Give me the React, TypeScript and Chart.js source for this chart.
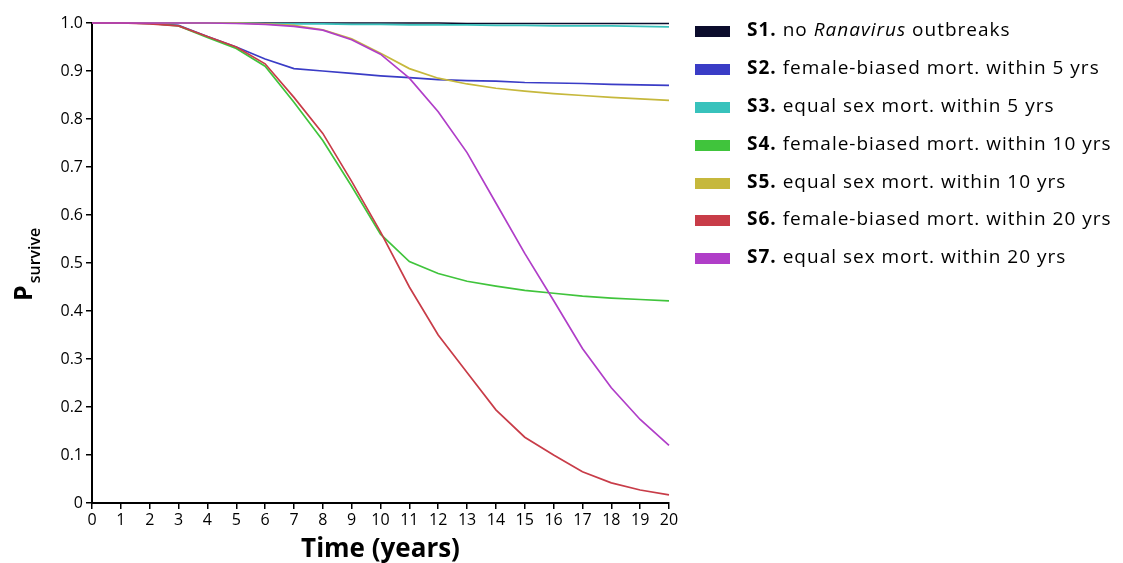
import React, { useEffect, useRef } from "react";
import { Chart, registerables } from "chart.js";

Chart.register(...registerables);

const years = [0, 1, 2, 3, 4, 5, 6, 7, 8, 9, 10, 11, 12, 13, 14, 15, 16, 17, 18, 19, 20];

const s1 = [1, 1, 1, 1, 1, 1, 1, 1, 1, 1, 1, 1, 1, 0.999, 0.999, 0.999, 0.999, 0.999, 0.999, 0.999, 0.999];
const s2 = [1, 1, 0.999, 0.995, 0.972, 0.95, 0.925, 0.905, 0.9, 0.895, 0.89, 0.886, 0.882, 0.88, 0.879, 0.876, 0.875, 0.874, 0.872, 0.871, 0.87];
const s3 = [1, 1, 1, 1, 1, 1, 0.999, 0.998, 0.998, 0.997, 0.997, 0.996, 0.996, 0.996, 0.995, 0.995, 0.994, 0.994, 0.994, 0.993, 0.992];
const s4 = [1, 1, 0.999, 0.994, 0.97, 0.947, 0.91, 0.835, 0.755, 0.66, 0.56, 0.503, 0.478, 0.462, 0.452, 0.443, 0.437, 0.431, 0.427, 0.424, 0.421];
const s5 = [1, 1, 1, 1, 1, 1, 0.998, 0.995, 0.986, 0.967, 0.937, 0.905, 0.885, 0.873, 0.864, 0.858, 0.853, 0.849, 0.845, 0.842, 0.839];
const s6 = [1, 1, 0.998, 0.994, 0.972, 0.95, 0.915, 0.845, 0.77, 0.67, 0.565, 0.45, 0.35, 0.272, 0.194, 0.137, 0.1, 0.065, 0.042, 0.027, 0.017];
const s7 = [1, 1, 1, 1, 1, 0.999, 0.997, 0.993, 0.985, 0.965, 0.935, 0.885, 0.815, 0.73, 0.625, 0.52, 0.422, 0.322, 0.24, 0.174, 0.12];

const seriesValues = [s1, s2, s3, s4, s5, s6, s7];
const seriesColors = ["#0b0c2c", "#3a3cc6", "#38c2bc", "#40c43c", "#c6b83c", "#c83c48", "#b03ec8"];
const legendBold = ["S1.", "S2.", "S3.", "S4.", "S5.", "S6.", "S7."];
const legendParts: Array<Array<[string, boolean]>> = [
  [[" no ", false], ["Ranavirus", true], [" outbreaks", false]],
  [[" female-biased mort. within 5 yrs", false]],
  [[" equal sex mort. within 5 yrs", false]],
  [[" female-biased mort. within 10 yrs", false]],
  [[" equal sex mort. within 10 yrs", false]],
  [[" female-biased mort. within 20 yrs", false]],
  [[" equal sex mort. within 20 yrs", false]],
];
const yTicks = [0, 0.1, 0.2, 0.3, 0.4, 0.5, 0.6, 0.7, 0.8, 0.9, 1.0];
const xTitle = "Time (years)";
const yTitleMain = "P";
const yTitleSub = "survive";

const FONT = "'Open Sans', 'DejaVu Sans', sans-serif";

const overlayPlugin = {
  id: "overlay",
  afterDraw(chart: any) {
    const ctx = chart.ctx as CanvasRenderingContext2D;
    const area = chart.chartArea;
    ctx.save();
    ctx.fillStyle = "#000";
    // x title
    ctx.font = `bold 26px ${FONT}`;
    ctx.textAlign = "center";
    ctx.textBaseline = "alphabetic";
    ctx.fillText(xTitle, (area.left + area.right) / 2, 557);
    // y title
    ctx.save();
    ctx.translate(32, 301);
    ctx.rotate(-Math.PI / 2);
    ctx.textAlign = "left";
    ctx.font = `bold 25px ${FONT}`;
    ctx.fillText(yTitleMain, 0, 0);
    const pw = ctx.measureText(yTitleMain).width;
    ctx.font = `600 16px ${FONT}`;
    ctx.fillText(yTitleSub, pw + 2, 8);
    ctx.restore();
    // legend
    const rowY = [31, 69, 107, 145, 183, 220, 258];
    (ctx as any).letterSpacing = "1px";
    for (let i = 0; i < 7; i++) {
      const y = rowY[i];
      ctx.fillStyle = seriesColors[i];
      ctx.fillRect(695, y - 5, 35, 11);
      ctx.fillStyle = "#000";
      ctx.textAlign = "left";
      ctx.textBaseline = "middle";
      let x = 747;
      ctx.font = `bold 19px ${FONT}`;
      ctx.fillText(legendBold[i], x, y);
      x += ctx.measureText(legendBold[i]).width;
      for (const [txt, it] of legendParts[i]) {
        ctx.font = `${it ? "italic " : ""}19px ${FONT}`;
        ctx.fillText(txt, x, y);
        x += ctx.measureText(txt).width;
      }
    }
    (ctx as any).letterSpacing = "0px";
    ctx.restore();
  },
};

export default function App() {
  const ref = useRef<HTMLCanvasElement | null>(null);
  useEffect(() => {
    if (!ref.current) return;
    const datasets = seriesValues.map((vals, i) => ({
      label: legendBold[i],
      data: years.map((yr, j) => ({ x: yr, y: vals[j] })),
      borderColor: seriesColors[i],
      backgroundColor: seriesColors[i],
      borderWidth: 1.7,
      pointRadius: 0,
      tension: 0,
      clip: 5,
    }));
    const chart = new Chart(ref.current, {
      type: "line",
      data: { datasets: datasets.slice().reverse() as any },
      options: {
        animation: false,
        responsive: false,
        maintainAspectRatio: false,
        layout: { padding: { left: 0, right: 454, top: 23, bottom: 0 } },
        plugins: { legend: { display: false }, tooltip: { enabled: false } },
        scales: {
          x: {
            type: "linear",
            min: 0,
            max: 20,
            afterFit: (s: any) => { s.height = 60; },
            ticks: {
              stepSize: 1,
              autoSkip: false,
              maxRotation: 0,
              padding: 2,
              color: "#000",
              font: { family: FONT, size: 16 },
            },
            grid: { display: true, drawOnChartArea: false, drawTicks: true, tickLength: 6, color: "#000", lineWidth: 1.5 },
            border: { display: true, color: "#000", width: 2 },
          },
          y: {
            type: "linear",
            min: 0,
            max: 1,
            afterFit: (s: any) => { s.width = 92; },
            afterBuildTicks: (s: any) => { s.ticks = yTicks.map((v) => ({ value: v })); },
            ticks: {
              padding: 3,
              color: "#000",
              font: { family: FONT, size: 16 },
              callback: (v: any) => (Number(v) === 0 ? "0" : Number(v).toFixed(1)),
            },
            grid: { display: true, drawOnChartArea: false, drawTicks: true, tickLength: 6, color: "#000", lineWidth: 1.5 },
            border: { display: true, color: "#000", width: 2 },
          },
        },
      },
      plugins: [overlayPlugin],
    });
    return () => chart.destroy();
  }, []);
  return (
    <div style={{ position: "absolute", left: 0, top: 0, width: 1123, height: 563, background: "#fff" }}>
      <canvas ref={ref} width={1123} height={563} style={{ display: "block", width: 1123, height: 563 }} />
    </div>
  );
}
